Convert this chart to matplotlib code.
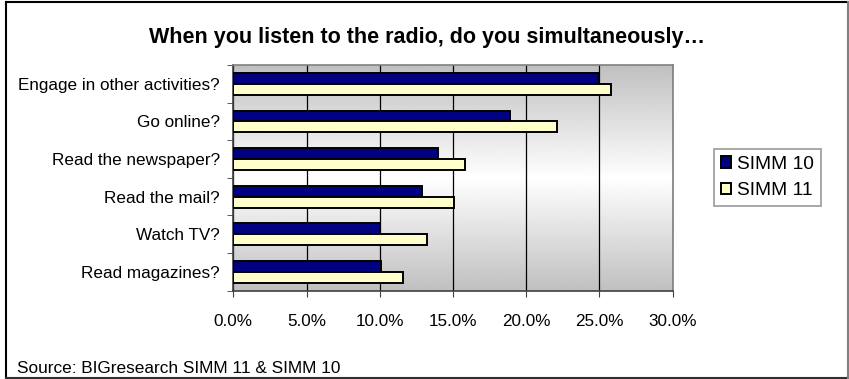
import numpy as np
import matplotlib.pyplot as plt
from matplotlib.lines import Line2D
from matplotlib.ticker import FuncFormatter, MultipleLocator

plt.rcParams['font.family'] = ['Liberation Sans', 'DejaVu Sans']

categories = ['Engage in other activities?', 'Go online?', 'Read the newspaper?',
              'Read the mail?', 'Watch TV?', 'Read magazines?']
simm10 = [25.0, 18.9, 14.0, 12.9, 10.0, 10.1]
simm11 = [25.8, 22.1, 15.8, 15.1, 13.2, 11.6]
series_names = ['SIMM 10', 'SIMM 11']

W, H = 849, 379
fig = plt.figure(figsize=(W / 100, H / 100), dpi=100)
ax = fig.add_axes([233.3 / W, 1 - 290.7 / H, 439.4 / W, 225.7 / H])

n = len(categories)
y = np.arange(n)
h = 0.29

# фон с градиентом: серый сверху и снизу, белый в середине
t = np.linspace(0, 1, 256)
shade = 0.75 + 0.25 * (1 - np.abs(t - 0.5) / 0.5)
grad = np.repeat(shade[:, None], 2, axis=1)
ax.imshow(grad, cmap='gray', vmin=0, vmax=1, aspect='auto',
          extent=[0, 30, n - 0.5, -0.5], zorder=0, interpolation='bilinear')

ax.barh(y - h / 2, simm10, height=h, color='#000080', edgecolor='black',
        linewidth=1.4, label=series_names[0], zorder=3)
ax.barh(y + h / 2, simm11, height=h, color='#ffffcc', edgecolor='black',
        linewidth=1.4, label=series_names[1], zorder=3)

ax.set_xlim(0, 30)
ax.set_ylim(n - 0.5, -0.5)
ax.xaxis.set_major_locator(MultipleLocator(5))
ax.xaxis.set_major_formatter(FuncFormatter(lambda v, p: f'{v:.1f}%'))
ax.grid(axis='x', color='black', linewidth=0.9, zorder=1)
ax.set_axisbelow(True)

ax.set_yticks(y)
ax.set_yticklabels(categories)
ax.set_yticks(np.arange(n + 1) - 0.5, minor=True)
ax.tick_params(axis='y', which='major', length=0, pad=9.5, labelsize=12.3)
ax.tick_params(axis='y', which='minor', length=4, direction='out', color='#404040')
ax.tick_params(axis='x', length=4, direction='out', pad=13, labelsize=12.3, color='#404040')

for s in ax.spines.values():
    s.set_color('#808080')
    s.set_linewidth(1.2)
ax.spines['left'].set_color('#404040')
ax.spines['bottom'].set_color('#404040')

fig.text(427 / W, 1 - 43.3 / H, 'When you listen to the radio, do you simultaneously…',
         ha='center', va='baseline', fontsize=15.5, fontweight='bold')
fig.text(16.7 / W, 1 - 373 / H, 'Source: BIGresearch SIMM 11 & SIMM 10', ha='left',
         va='baseline', fontsize=12.4)

leg = fig.legend(loc='upper left', bbox_to_anchor=(714 / W, 1 - 149 / H),
                 borderaxespad=0, frameon=True, fancybox=False, fontsize=13.8,
                 handlelength=0.55, handleheight=0.55, handletextpad=0.3,
                 borderpad=0.35, labelspacing=0.5)
leg.get_frame().set_edgecolor('#808080')
leg.get_frame().set_linewidth(1.2)

# рамка вокруг всей картинки
x0, x1, y0, y1 = 6 / W, 848 / W, 1 - 378 / H, 1 - 2 / H
for xs, ys, c in [([x0, x1], [y1, y1], 'black'), ([x0, x0], [y0, y1], 'black'),
                  ([x0, x1], [y0, y0], '#303030'), ([x1, x1], [y0, y1], '#808080')]:
    fig.add_artist(Line2D(xs, ys, transform=fig.transFigure, color=c, linewidth=1.5))

fig.savefig('out.png', dpi=100)
